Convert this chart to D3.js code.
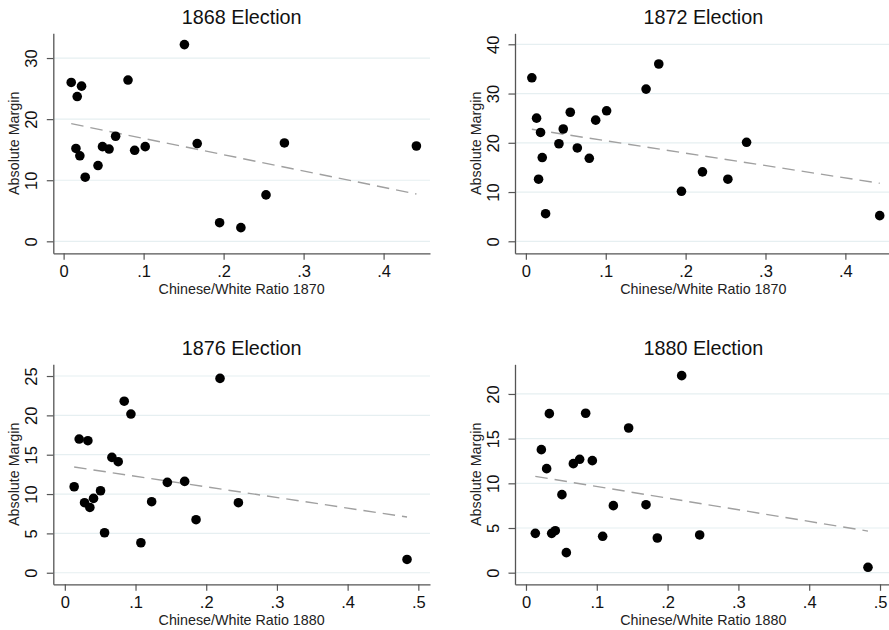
<!DOCTYPE html>
<html>
<head>
<meta charset="utf-8">
<script src="https://cdn.jsdelivr.net/npm/d3@7"></script>
<style>
  html, body { margin: 0; padding: 0; background: #fff; }
  svg { display: block; font-family: "Liberation Sans", Arial, Helvetica, sans-serif; }
</style>
</head>
<body>
<svg id="chart" width="889" height="630"></svg>
<script>
// panel titles and axis titles
const titles = ['1868 Election', '1872 Election', '1876 Election', '1880 Election']
const xTitles = ['Chinese/White Ratio 1870', 'Chinese/White Ratio 1870', 'Chinese/White Ratio 1880', 'Chinese/White Ratio 1880']
const yTitle = 'Absolute Margin'

// tick values
const xTicks1870 = [0, 0.1, 0.2, 0.3, 0.4]
const xTicks1880 = [0, 0.1, 0.2, 0.3, 0.4, 0.5]
const yTicks1868 = [0, 10, 20, 30]
const yTicks1872 = [0, 10, 20, 30, 40]
const yTicks1876 = [0, 5, 10, 15, 20, 25]
const yTicks1880 = [0, 5, 10, 15, 20]

// 1868 election vs 1870 ratio
const ratio1868 = [0.0095, 0.0224, 0.017, 0.0805, 0.151, 0.0154, 0.0203, 0.027, 0.043, 0.0486,
  0.0568, 0.065, 0.0888, 0.102, 0.167, 0.276, 0.441, 0.195, 0.2216, 0.253]
const margin1868 = [26.0, 25.4, 23.7, 26.4, 32.2, 15.2, 14.0, 10.5, 12.4, 15.5,
  15.1, 17.2, 14.9, 15.5, 16.0, 16.1, 15.6, 3.05, 2.24, 7.6]

// 1872 election vs 1870 ratio
const ratio1872 = [0.0075, 0.0134, 0.0184, 0.0205, 0.0159, 0.0247, 0.0414, 0.0468, 0.0556, 0.0644,
  0.0794, 0.0874, 0.1011, 0.1505, 0.1664, 0.1948, 0.2211, 0.2529, 0.2763, 0.443]
const margin1872 = [33.2, 25.0, 22.1, 17.0, 12.6, 5.6, 19.8, 22.8, 26.2, 18.95,
  16.85, 24.6, 26.5, 30.9, 36.0, 10.15, 14.1, 12.6, 20.1, 5.2]

// 1876 election vs 1880 ratio
const ratio1876 = [0.0132, 0.0203, 0.0326, 0.0279, 0.0354, 0.0406, 0.0505, 0.0562, 0.0666, 0.0755,
  0.084, 0.0935, 0.1076, 0.1228, 0.145, 0.1695, 0.1856, 0.2195, 0.2455, 0.484]
const margin1876 = [10.93, 16.99, 16.78, 8.9, 8.3, 9.45, 10.42, 5.08, 14.66, 14.11,
  21.8, 20.17, 3.81, 9.03, 11.48, 11.61, 6.74, 24.7, 8.9, 1.69]

// 1880 election vs 1880 ratio
const ratio1880 = [0.0132, 0.0217, 0.0292, 0.033, 0.0363, 0.0414, 0.0508, 0.057, 0.0669, 0.0758,
  0.0843, 0.0937, 0.1083, 0.1234, 0.145, 0.1695, 0.1855, 0.2199, 0.2453, 0.483]
const margin1880 = [4.4, 13.77, 11.64, 17.8, 4.4, 4.7, 8.73, 2.24, 12.2, 12.69,
  17.84, 12.54, 4.07, 7.5, 16.19, 7.61, 3.88, 22.05, 4.22, 0.6]

// fitted values line (intercept, slope)
const fitIntercept = [19.51, 22.93, 13.61, 10.95]
const fitSlope = [-26.67, -25.18, -13.49, -13.03]

const xData = [ratio1868, ratio1872, ratio1876, ratio1880]
const yData = [margin1868, margin1872, margin1876, margin1880]
const xTickSets = [xTicks1870, xTicks1870, xTicks1880, xTicks1880]
const yTickSets = [yTicks1868, yTicks1872, yTicks1876, yTicks1880]
// axis ranges as Stata drew them (a little padding round the data)
const xDomains = [[-0.0129, 0.458], [-0.0136, 0.458], [-0.0163, 0.5165], [-0.0155, 0.5165]]
const yDomains = [[-1.96, 34.05], [-2.44, 42.23], [-1.47, 26.49], [-1.30, 23.32]]

const plotW = 376.7
const plotH = 220
const origins = [[53.3, 33.3], [515, 33.3], [53.3, 364.3], [515, 364.3]]

// Stata style: 0, .1, .2 ... and plain integers
const fmtTick = d => Number.isInteger(d) ? String(d) : d3.format('.1f')(d).replace(/^0/, '')

const svg = d3.select('#chart')

titles.forEach((title, p) => {
  const [ox, oy] = origins[p]
  const xs = xData[p]
  const ys = yData[p]
  const g = svg.append('g').attr('transform', `translate(${ox},${oy})`)

  const x = d3.scaleLinear().domain(xDomains[p]).range([0, plotW])
  const y = d3.scaleLinear().domain(yDomains[p]).range([plotH, 0])

  // grid
  g.append('g')
    .selectAll('line')
    .data(yTickSets[p])
    .join('line')
    .attr('x1', 0)
    .attr('x2', plotW)
    .attr('y1', d => y(d))
    .attr('y2', d => y(d))
    .attr('stroke', '#e6eff1')
    .attr('stroke-width', 1.2)

  // x axis
  const xAxis = g.append('g')
    .attr('transform', `translate(0,${plotH})`)
    .call(d3.axisBottom(x).tickValues(xTickSets[p]).tickFormat(fmtTick).tickSize(6.5).tickSizeOuter(0))
  xAxis.select('.domain').attr('stroke', '#555').attr('stroke-width', 1.3)
  xAxis.selectAll('.tick line').attr('stroke', '#555').attr('stroke-width', 1.2)
  xAxis.selectAll('.tick text')
    .attr('y', 23.4)
    .attr('dy', 0)
    .attr('font-size', 16.5)
    .attr('fill', '#111')
    .attr('font-family', null)

  // y axis
  const yAxis = g.append('g')
    .call(d3.axisLeft(y).tickValues(yTickSets[p]).tickFormat(fmtTick).tickSize(6.5).tickSizeOuter(0))
  yAxis.select('.domain').attr('stroke', '#555').attr('stroke-width', 1.3)
  yAxis.selectAll('.tick line').attr('stroke', '#555').attr('stroke-width', 1.2)
  yAxis.selectAll('.tick text')
    .attr('transform', 'rotate(-90)')
    .attr('x', 0)
    .attr('y', -16)
    .attr('dy', 0)
    .attr('text-anchor', 'middle')
    .attr('font-size', 16.5)
    .attr('fill', '#111')
    .attr('font-family', null)

  // fitted values
  const fit = v => fitIntercept[p] + fitSlope[p] * v
  const [xmin, xmax] = d3.extent(xs)
  g.append('line')
    .attr('x1', x(xmin))
    .attr('y1', y(fit(xmin)))
    .attr('x2', x(xmax))
    .attr('y2', y(fit(xmax)))
    .attr('stroke', '#a0a0a0')
    .attr('stroke-width', 1.4)
    .attr('stroke-dasharray', '12.5,7')

  // points
  g.append('g')
    .selectAll('circle')
    .data(xs)
    .join('circle')
    .attr('cx', d => x(d))
    .attr('cy', (_, i) => y(ys[i]))
    .attr('r', 4.8)
    .attr('fill', '#000')

  // titles
  g.append('text')
    .attr('x', plotW / 2)
    .attr('y', -9.7)
    .attr('text-anchor', 'middle')
    .attr('font-size', 19.8)
    .attr('fill', '#111')
    .text(title)

  g.append('text')
    .attr('x', plotW / 2)
    .attr('y', plotH + 40.7)
    .attr('text-anchor', 'middle')
    .attr('font-size', 14.3)
    .attr('fill', '#222')
    .text(xTitles[p])

  g.append('text')
    .attr('transform', 'rotate(-90)')
    .attr('x', -plotH / 2)
    .attr('y', -34)
    .attr('text-anchor', 'middle')
    .attr('font-size', 14.3)
    .attr('fill', '#222')
    .text(yTitle)
})
</script>
</body>
</html>
